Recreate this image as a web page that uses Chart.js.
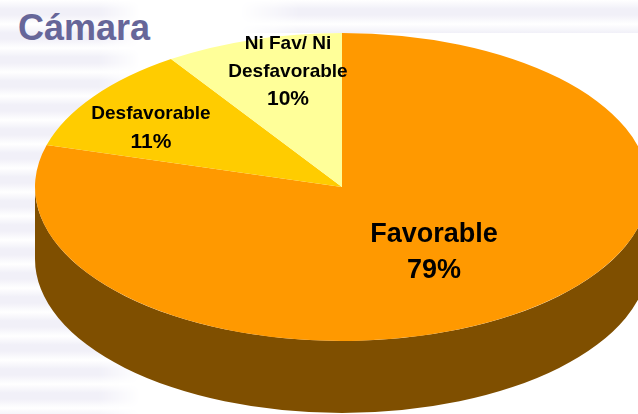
<!DOCTYPE html>
<html>
<head>
<meta charset="utf-8">
<script src="https://cdn.jsdelivr.net/npm/chart.js@4/dist/chart.umd.min.js"></script>
<style>
    html, body { margin: 0; padding: 0; }
    body { width: 638px; height: 414px; overflow: hidden; position: relative; background: #fff; }
    .stripes {
        position: absolute;
        background-image: repeating-linear-gradient(180deg, #fff 0, #f1f0f8 9px, #f1f0f8 15px, #fff 24px);
    }
    #stripes-left {
        left: 0; top: 0; width: 140px; height: 414px;
        -webkit-mask-image: linear-gradient(90deg, #000 70%, transparent);
        mask-image: linear-gradient(90deg, #000 70%, transparent);
    }
    #stripes-top {
        left: 240px; top: 0; width: 398px; height: 33px;
        -webkit-mask-image: linear-gradient(90deg, transparent, #000 15%);
        mask-image: linear-gradient(90deg, transparent, #000 15%);
    }
    #title {
        position: absolute; left: 18px; top: 7px;
        font: bold 36px "Liberation Sans", Arial, sans-serif;
        color: #666699;
    }
    canvas { position: absolute; left: 0; top: 0; }
</style>
</head>
<body>
<div class="stripes" id="stripes-left"></div>
<div class="stripes" id="stripes-top"></div>
<div id="title">Cámara</div>
<canvas id="pie" width="638" height="414"></canvas>
<script>
// slice sizes, printed labels are rounded differently
const categories = ['Favorable', 'Desfavorable', 'Ni Fav/ Ni Desfavorable'];
const shares = [79.4, 11.2, 9.4];
const printedShares = ['79%', '11%', '10%'];
const sliceColors = ['#ff9900', '#ffcc00', '#ffff99'];
const wallColor = '#7f4f00';

// fake 3D: pie squashed into an ellipse with a wall under it
const RX = 307, RY = 154, CX = 342, CY = 187, DEPTH = 72;

const labelLines = [
    { text: 'Favorable', x: 434, y: 235, size: 27 },
    { text: printedShares[0], x: 434, y: 271, size: 27 },
    { text: 'Desfavorable', x: 151, y: 114, size: 19 },
    { text: printedShares[1], x: 151, y: 142, size: 21 },
    { text: 'Ni Fav/ Ni', x: 288, y: 44, size: 19 },
    { text: 'Desfavorable', x: 288, y: 72, size: 19 },
    { text: printedShares[2], x: 288, y: 99, size: 21 }
];

const squash = {
    id: 'squash',
    beforeDatasetsDraw(chart) {
        const ctx = chart.ctx;
        const arc = chart.getDatasetMeta(0).data[0];

        // wall of the first slice, only the part facing the viewer
        const end = Math.min(arc.endAngle, Math.PI);
        const start = Math.max(arc.startAngle, 0);
        ctx.save();
        ctx.fillStyle = wallColor;
        ctx.beginPath();
        ctx.ellipse(CX, CY + DEPTH, RX, RY, 0, start, end);
        ctx.ellipse(CX, CY, RX, RY, 0, end, start, true);
        ctx.closePath();
        ctx.fill();
        ctx.restore();

        ctx.save();
        ctx.translate(CX, CY);
        ctx.scale(1, RY / RX);
        ctx.translate(-arc.x, -arc.y);
    },
    afterDatasetsDraw(chart) {
        const ctx = chart.ctx;
        ctx.restore();

        ctx.save();
        ctx.fillStyle = '#000';
        ctx.textAlign = 'center';
        ctx.textBaseline = 'middle';
        labelLines.forEach(l => {
            ctx.font = 'bold ' + l.size + 'px "Liberation Sans", Arial, sans-serif';
            ctx.fillText(l.text, l.x, l.y);
        });
        ctx.restore();
    }
};

new Chart(document.getElementById('pie'), {
    type: 'pie',
    data: {
        labels: categories,
        datasets: [{
            data: shares,
            backgroundColor: sliceColors,
            borderWidth: 0,
            clip: false,
            radius: RX
        }]
    },
    options: {
        responsive: false,
        animation: false,
        events: [],
        plugins: { legend: { display: false }, tooltip: { enabled: false } }
    },
    plugins: [squash]
});
</script>
</body>
</html>
